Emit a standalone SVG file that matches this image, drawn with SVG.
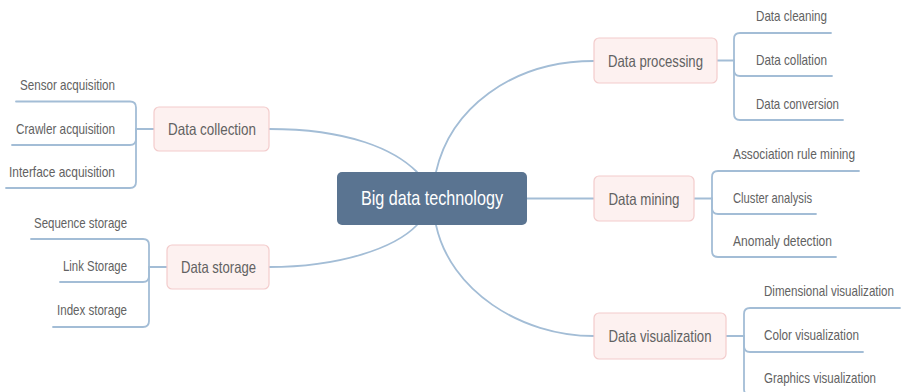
<svg xmlns="http://www.w3.org/2000/svg" width="903" height="392" viewBox="0 0 903 392">
  <style>
    .bg { fill: #ffffff; }
    .link { fill: none; stroke: #a3bdd6; stroke-width: 1.8; stroke-linecap: round; }
    .topic rect { fill: #fdf1f0; stroke: #f3cccc; stroke-width: 1.2; }
    .topic text { font-family: "Liberation Sans", Arial, sans-serif; font-size: 16.5px; fill: #626262; text-anchor: middle; }
    .root rect { fill: #5a7491; }
    .root text { font-family: "Liberation Sans", Arial, sans-serif; font-size: 21px; fill: #ffffff; text-anchor: middle; }
    .leaf text { font-family: "Liberation Sans", Arial, sans-serif; font-size: 14.5px; fill: #626262; }
    .leaf.l text { text-anchor: end; }
  </style>
  <rect class="bg" x="0" y="0" width="903" height="392"/>

  <!-- connectors -->
  <g id="connectors">
    <!-- root to main topics -->
    <path class="link" d="M269,129 C350,129 395,150 417,172"/>
    <path class="link" d="M417,225 C395,248 340,267 269,267"/>
    <path class="link" d="M436,172 C450,110 510,61 594,61"/>
    <path class="link" d="M527,198.5 H594"/>
    <path class="link" d="M436,225 C450,290 520,336 594,336"/>

    <!-- Data collection branches -->
    <path class="link" d="M154,129 H136"/>
    <path class="link" d="M136,129 V107.5 Q136,101.5 130,101.5 H16"/>
    <path class="link" d="M136,129 V139 Q136,145 130,145 H12"/>
    <path class="link" d="M136,129 V182 Q136,188 130,188 H6"/>

    <!-- Data storage branches -->
    <path class="link" d="M167,267 H149"/>
    <path class="link" d="M149,267 V245 Q149,239 143,239 H31"/>
    <path class="link" d="M149,267 V276 Q149,282 143,282 H60"/>
    <path class="link" d="M149,267 V321 Q149,327 143,327 H53"/>

    <!-- Data processing branches -->
    <path class="link" d="M717,60.5 H734"/>
    <path class="link" d="M734,60.5 V39 Q734,33 740,33 H831"/>
    <path class="link" d="M734,60.5 V70 Q734,76 740,76 H832"/>
    <path class="link" d="M734,60.5 V114 Q734,120 740,120 H843"/>

    <!-- Data mining branches -->
    <path class="link" d="M694,198.5 H712"/>
    <path class="link" d="M712,198.5 V177 Q712,171 718,171 H859"/>
    <path class="link" d="M712,198.5 V208 Q712,214 718,214 H816"/>
    <path class="link" d="M712,198.5 V251 Q712,257 718,257 H836"/>

    <!-- Data visualization branches -->
    <path class="link" d="M726,336 H744"/>
    <path class="link" d="M744,336 V314 Q744,308 750,308 H900"/>
    <path class="link" d="M744,336 V346 Q744,352 750,352 H863"/>
    <path class="link" d="M744,336 V389 Q744,395 750,395 H880"/>
  </g>

  <!-- root -->
  <g id="big-data-technology" class="root">
    <rect x="337" y="172" width="190" height="53" rx="5"/>
    <text x="432" y="205" textLength="142" lengthAdjust="spacingAndGlyphs">Big data technology</text>
  </g>

  <!-- main topics -->
  <g id="data-collection" class="topic">
    <rect x="154" y="107" width="115" height="44" rx="5"/>
    <text x="212" y="135" textLength="88" lengthAdjust="spacingAndGlyphs">Data collection</text>
  </g>
  <g id="data-storage" class="topic">
    <rect x="167" y="245" width="102" height="44" rx="5"/>
    <text x="218.5" y="273" textLength="75" lengthAdjust="spacingAndGlyphs">Data storage</text>
  </g>
  <g id="data-processing" class="topic">
    <rect x="594" y="38" width="123" height="45" rx="5"/>
    <text x="655.5" y="66.5" textLength="95" lengthAdjust="spacingAndGlyphs">Data processing</text>
  </g>
  <g id="data-mining" class="topic">
    <rect x="594" y="176" width="100" height="45" rx="5"/>
    <text x="644" y="204.5" textLength="71" lengthAdjust="spacingAndGlyphs">Data mining</text>
  </g>
  <g id="data-visualization" class="topic">
    <rect x="594" y="313" width="132" height="46" rx="5"/>
    <text x="660" y="342" textLength="103" lengthAdjust="spacingAndGlyphs">Data visualization</text>
  </g>

  <!-- leaves: Data collection -->
  <g id="sensor-acquisition" class="leaf l"><text x="115" y="89.5" textLength="95" lengthAdjust="spacingAndGlyphs">Sensor acquisition</text></g>
  <g id="crawler-acquisition" class="leaf l"><text x="115" y="133.5" textLength="99" lengthAdjust="spacingAndGlyphs">Crawler acquisition</text></g>
  <g id="interface-acquisition" class="leaf l"><text x="115" y="177" textLength="106" lengthAdjust="spacingAndGlyphs">Interface acquisition</text></g>

  <!-- leaves: Data storage -->
  <g id="sequence-storage" class="leaf l"><text x="127" y="227.5" textLength="93" lengthAdjust="spacingAndGlyphs">Sequence storage</text></g>
  <g id="link-storage" class="leaf l"><text x="127" y="271" textLength="64" lengthAdjust="spacingAndGlyphs">Link Storage</text></g>
  <g id="index-storage" class="leaf l"><text x="127" y="315" textLength="70" lengthAdjust="spacingAndGlyphs">Index storage</text></g>

  <!-- leaves: Data processing -->
  <g id="data-cleaning" class="leaf"><text x="756" y="21" textLength="71" lengthAdjust="spacingAndGlyphs">Data cleaning</text></g>
  <g id="data-collation" class="leaf"><text x="756" y="64.5" textLength="71" lengthAdjust="spacingAndGlyphs">Data collation</text></g>
  <g id="data-conversion" class="leaf"><text x="756" y="108.5" textLength="83" lengthAdjust="spacingAndGlyphs">Data conversion</text></g>

  <!-- leaves: Data mining -->
  <g id="association-rule-mining" class="leaf"><text x="733" y="159" textLength="122" lengthAdjust="spacingAndGlyphs">Association rule mining</text></g>
  <g id="cluster-analysis" class="leaf"><text x="733" y="202.5" textLength="79" lengthAdjust="spacingAndGlyphs">Cluster analysis</text></g>
  <g id="anomaly-detection" class="leaf"><text x="733" y="245.5" textLength="99" lengthAdjust="spacingAndGlyphs">Anomaly detection</text></g>

  <!-- leaves: Data visualization -->
  <g id="dimensional-visualization" class="leaf"><text x="764" y="296" textLength="130" lengthAdjust="spacingAndGlyphs">Dimensional visualization</text></g>
  <g id="color-visualization" class="leaf"><text x="764" y="340" textLength="95" lengthAdjust="spacingAndGlyphs">Color visualization</text></g>
  <g id="graphics-visualization" class="leaf"><text x="764" y="382.5" textLength="112" lengthAdjust="spacingAndGlyphs">Graphics visualization</text></g>
</svg>
